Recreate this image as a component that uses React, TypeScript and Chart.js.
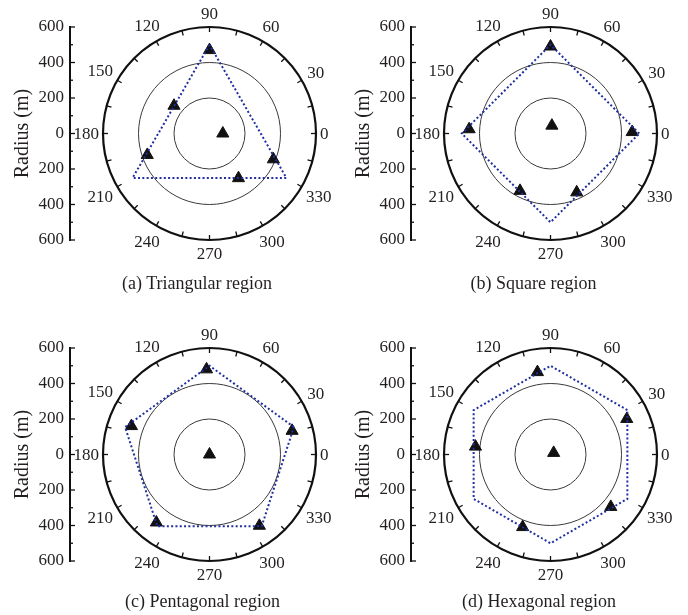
import React, { useEffect, useRef } from 'react';
import { Chart, registerables } from 'chart.js';

Chart.register(...registerables);

// ---------- data ----------
const radiusTickStep = 200;
const radiusMinorStep = 100;
const radiusMax = 600;
const gridCircles = [200, 400, 600];
const angleLabels = ['0', '30', '60', '90', '120', '150', '180', '210', '240', '270', '300', '330'];
const angleLabelValues = [0, 30, 60, 90, 120, 150, 180, 210, 240, 270, 300, 330];
const angleMinorStep = 15;
const regionRadius = 500;

const triangularVertexAngles = [90, 210, 330];
const squareVertexAngles = [0, 90, 180, 270];
const pentagonalVertexAngles = [18, 90, 162, 234, 306];
const hexagonalVertexAngles = [30, 90, 150, 210, 270, 330];

const triangularNodeRadii = [470, 254, 75, 371, 388, 300];
const triangularNodeAngles = [90, 142, 0, 199, 338, 303];

const squareNodeRadii = [490, 45, 460, 459, 366, 363];
const squareNodeAngles = [90, 80, 1, 177, 242, 294];

const pentagonalNodeRadii = [480, 0, 468, 484, 486, 490];
const pentagonalNodeAngles = [92, 0, 160, 16, 232, 305];

const hexagonalNodeRadii = [470, 474, 425, 20, 450, 438];
const hexagonalNodeAngles = [99, 25, 174, 27, 319, 249];

const captions = ['(a) Triangular region', '(b) Square region', '(c) Pentagonal region', '(d) Hexagonal region'];

// ---------- style / layout ----------
const FONT = "'Liberation Serif', 'Times New Roman', serif";
const TEXT = '#231f20';
const BLUE = '#1f2fa0';
const CW = 344;
const CH = 300;
const AXIS_X = 70;
const CENTER_X = 209.5;
const AREA_TOP = 27;
const AREA_BOTTOM = 240;
const AREA_RIGHT = 330;
const TICK_SIZE = 17;

const rad = (d: number) => (d * Math.PI) / 180;
const toXY = (r: number, a: number) => ({ x: r * Math.cos(rad(a)), y: r * Math.sin(rad(a)) });

const polarPlugin = {
  id: 'polarGrid',
  beforeDatasetsDraw(chart: any) {
    const { ctx } = chart;
    const xs = chart.scales.x;
    const ys = chart.scales.y;
    const cx = xs.getPixelForValue(0);
    const cy = ys.getPixelForValue(0);
    const pr = (v: number) => cy - ys.getPixelForValue(v);
    ctx.save();
    gridCircles.forEach((c) => {
      const outer = c === radiusMax;
      ctx.beginPath();
      ctx.arc(cx, cy, pr(c), 0, Math.PI * 2);
      ctx.lineWidth = outer ? 2.2 : 1;
      ctx.strokeStyle = outer ? '#111' : '#3a3a3a';
      ctx.stroke();
    });
    const R = pr(radiusMax);
    ctx.lineWidth = 1.3;
    ctx.strokeStyle = '#111';
    for (let a = 0; a < 360; a += angleMinorStep) {
      const c = Math.cos(rad(a));
      const s = Math.sin(rad(a));
      ctx.beginPath();
      ctx.moveTo(cx + c * R, cy - s * R);
      ctx.lineTo(cx + c * (R - 5), cy - s * (R - 5));
      ctx.stroke();
    }
    const ax = chart.chartArea.left;
    for (let v = -radiusMax; v <= radiusMax; v += radiusMinorStep) {
      const len = v % radiusTickStep === 0 ? 5 : 3;
      const py = ys.getPixelForValue(v);
      ctx.beginPath();
      ctx.moveTo(ax, py);
      ctx.lineTo(ax + len, py);
      ctx.stroke();
    }
    ctx.restore();
  },
  afterDraw(chart: any) {
    const { ctx } = chart;
    const xs = chart.scales.x;
    const ys = chart.scales.y;
    const cx = xs.getPixelForValue(0);
    const cy = ys.getPixelForValue(0);
    const R = cy - ys.getPixelForValue(radiusMax);
    ctx.save();
    ctx.font = `${TICK_SIZE}px ${FONT}`;
    ctx.fillStyle = TEXT;
    ctx.textAlign = 'center';
    ctx.textBaseline = 'middle';
    angleLabels.forEach((lab, i) => {
      const a = angleLabelValues[i];
      const c = Math.cos(rad(a));
      const s = Math.sin(rad(a));
      const w = ctx.measureText(lab).width;
      const d = R + 4 + Math.abs(c) * w / 2 + Math.abs(s) * 9.5;
      ctx.fillText(lab, cx + c * d, cy - s * d + 1);
    });
    ctx.restore();
  },
};

type PanelProps = {
  vertexAngles: number[];
  nodeRadii: number[];
  nodeAngles: number[];
  caption: string;
  left: number;
  top: number;
  captionX: number;
  captionY: number;
};

function Panel({ vertexAngles, nodeRadii, nodeAngles, caption, left, top, captionX, captionY }: PanelProps) {
  const ref = useRef<HTMLCanvasElement | null>(null);
  useEffect(() => {
    if (!ref.current) return;
    const ppu = (AREA_BOTTOM - AREA_TOP) / (2 * radiusMax);
    const xmin = -(CENTER_X - AXIS_X) / ppu;
    const xmax = (AREA_RIGHT - CENTER_X) / ppu;
    const poly = vertexAngles.map((a) => toXY(regionRadius, a));
    poly.push(poly[0]);
    const nodes = nodeRadii.map((r, i) => toXY(r, nodeAngles[i]));
    const chart = new Chart(ref.current, {
      type: 'scatter',
      data: {
        datasets: [
          {
            data: poly,
            showLine: true,
            borderColor: BLUE,
            borderWidth: 2,
            borderDash: [2, 2.3],
            pointRadius: 0,
            fill: false,
            tension: 0,
          },
          {
            data: nodes,
            pointStyle: 'triangle',
            pointRadius: 7,
            backgroundColor: '#111',
            borderColor: '#111',
            borderWidth: 1,
            showLine: false,
          },
        ],
      },
      options: {
        animation: false,
        responsive: false,
        devicePixelRatio: 1,
        layout: { padding: { left: 0, top: AREA_TOP, right: CW - AREA_RIGHT, bottom: CH - AREA_BOTTOM } },
        plugins: { legend: { display: false }, tooltip: { enabled: false } },
        scales: {
          x: { type: 'linear', min: xmin, max: xmax, display: false },
          y: {
            type: 'linear',
            min: -radiusMax,
            max: radiusMax,
            position: 'left',
            afterFit: (s: any) => {
              s.width = AXIS_X;
            },
            ticks: {
              stepSize: radiusTickStep,
              callback: (v: any) => String(Math.abs(Number(v))),
              font: { family: FONT, size: TICK_SIZE },
              color: TEXT,
              padding: 6,
            },
            grid: { drawOnChartArea: false, drawTicks: false },
            border: { display: true, color: '#111', width: 2 },
            title: {
              display: true,
              text: 'Radius (m)',
              font: { family: FONT, size: 20 },
              color: TEXT,
              padding: { top: 11, bottom: 0 },
            },
          },
        },
      },
      plugins: [polarPlugin],
    } as any);
    return () => chart.destroy();
  }, []);
  return (
    <>
      <canvas
        ref={ref}
        width={CW}
        height={CH}
        style={{ position: 'absolute', left, top, width: CW, height: CH }}
      />
      <div
        style={{
          position: 'absolute',
          left: left + captionX,
          top: top + captionY - 9,
          transform: 'translateX(-50%)',
          whiteSpace: 'nowrap',
          font: `18px ${FONT}`,
          lineHeight: '18px',
          color: TEXT,
        }}
      >
        {caption}
      </div>
    </>
  );
}

export default function App() {
  return (
    <div style={{ position: 'absolute', left: 0, top: 0, width: 688, height: 615, background: '#fff', overflow: 'hidden' }}>
      <Panel vertexAngles={triangularVertexAngles} nodeRadii={triangularNodeRadii} nodeAngles={triangularNodeAngles}
        caption={captions[0]} left={0} top={0} captionX={197} captionY={283} />
      <Panel vertexAngles={squareVertexAngles} nodeRadii={squareNodeRadii} nodeAngles={squareNodeAngles}
        caption={captions[1]} left={341} top={0} captionX={192.5} captionY={283} />
      <Panel vertexAngles={pentagonalVertexAngles} nodeRadii={pentagonalNodeRadii} nodeAngles={pentagonalNodeAngles}
        caption={captions[2]} left={0} top={321} captionX={202.5} captionY={280} />
      <Panel vertexAngles={hexagonalVertexAngles} nodeRadii={hexagonalNodeRadii} nodeAngles={hexagonalNodeAngles}
        caption={captions[3]} left={341} top={321} captionX={198} captionY={280} />
    </div>
  );
}
